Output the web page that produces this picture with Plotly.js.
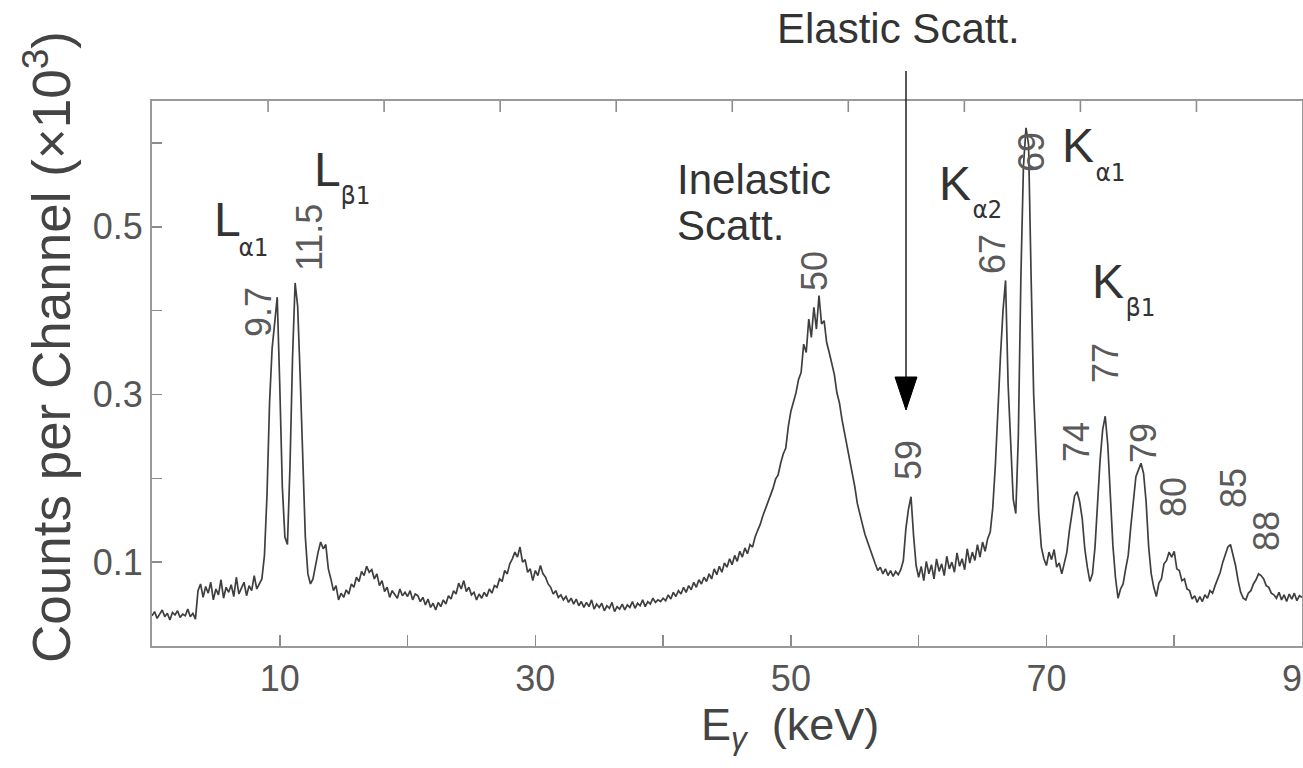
<!DOCTYPE html>
<html>
<head>
<meta charset="utf-8">
<script src="https://cdn.plot.ly/plotly-3.0.1.min.js"></script>
<style>
  html, body { margin: 0; padding: 0; background: #ffffff; }
  #chart { width: 1303px; height: 768px; }
</style>
</head>
<body>
<div id="chart"></div>
<script>
// ---------------- DATA ----------------
// Channel energies: first channel and spacing (keV)
const energyStart = 0.0;
const energyStep = 0.2;

// Counts per channel (raw counts)
const counts_0_20 = [36,41,33,38,43,35,39,31,40,37, 42,34,38,36,44,35,39,32,66,74,
  58,71,63,76,55,68,61,79,57,70, 64,73,59,82,62,69,76,60,72,66,
  84,68,75,80,108,180,290,355,385,416, 310,190,130,121,215,345,433,405,320,225,
  130,86,74,80,97,112,124,116,121,92, 80,66,72,55,63,58,67,62,74,70,
  82,77,89,84,95,88,91,80,86,72, 78,65,70,58,66,61,57,68,60,64];

const counts_20_40 = [59,66,55,62,60,53,58,49,56,46, 51,43,52,47,55,50,60,56,66,62,
  75,68,78,65,70,61,64,55,62,57, 64,59,68,63,72,70,80,77,90,86,
  98,104,112,106,118,100,103,88,92,78, 90,84,96,86,82,74,70,62,66,58,
  61,55,59,52,57,50,56,48,53,46, 52,47,55,44,50,46,51,42,48,45,
  52,41,47,44,50,43,49,46,53,45, 51,48,55,47,53,50,57,52,55,53];

const counts_40_60 = [57,54,61,56,64,59,66,62,70,64, 72,67,76,70,79,74,82,77,86,80,
  92,85,95,88,99,94,104,97,108,101, 113,106,117,110,121,118,130,138,145,155,
  163,172,180,188,199,204,218,229,236,262, 280,291,302,318,326,360,350,390,368,404,
  378,418,384,388,362,350,336,324,302,290, 270,256,238,222,208,190,170,156,145,133,
  124,114,106,98,90,94,86,92,84,90, 83,89,85,91,102,140,163,178,132,96];

const counts_60_90 = [82,95,78,101,86,97,80,104,89,98, 84,107,92,100,88,111,95,104,91,116,
  99,112,102,121,106,124,113,128,136,165, 215,285,345,400,436,312,232,175,158,250,
  440,572,618,598,440,300,228,158,118,104, 96,112,103,115,94,99,86,98,112,138,
  162,179,184,172,152,116,94,77,86,118, 170,222,258,274,240,180,120,82,57,68,
  74,92,108,142,176,202,210,218,206,172, 118,86,70,59,75,80,98,102,112,106,
  113,92,90,78,80,68,66,56,60,52, 59,53,61,57,66,63,72,80,88,100,
  108,118,121,110,96,78,64,57,55,63, 66,74,79,86,84,80,72,70,63,61,
  57,64,55,61,53,62,56,63,54,60, 58];

// Axis ticks (labels only on every other tick)
const xTickVals = [10,20,30,40,50,60,70,80,90];
const xTickText = ['10',' ','30',' ','50',' ','70',' ','90'];
const yTickVals = [0.1,0.2,0.3,0.4,0.5,0.6];
const yTickText = ['0.1',' ','0.3',' ','0.5',' '];

// Peak energy labels (keV)
const peakLabels = ['9.7','11.5','50','59','67','69','74','77','79','80','85','88'];

// ---------------- BUILD ----------------
const counts = [].concat(counts_0_20, counts_20_40, counts_40_60, counts_60_90);
const energy = counts.map((_, i) => +(energyStart + i * energyStep).toFixed(2));
const kcounts = counts.map(c => c / 1000);

const W = 1303, H = 768;
const ML = 152, MR = 1, MT = 101, MB = 122;
const PW = W - ML - MR, PH = H - MT - MB;
const px = v => (v - ML) / PW;
const py = v => (H - MB - v) / PH;

const SANS = 'Liberation Sans, Arial, sans-serif';
const MONO = 'DejaVu Sans Mono, monospace';

function ann(text, cx, cy, o) {
  o = o || {};
  return {
    text: text, xref: 'paper', yref: 'paper', x: px(cx), y: py(cy),
    xanchor: o.xanchor || 'center', yanchor: 'middle', showarrow: false,
    textangle: o.angle || 0,
    font: {family: o.family || SANS, size: o.size || 36, color: o.color || '#333'}
  };
}

// layout positions of the rotated peak labels (pixels)
const peakPos = [[258,312],[310,238],[814,271],[908,460],[993,254],[1032,152],
                 [1076,442],[1105,363],[1144,443],[1173,497],[1233,488],[1266,531]];

const annotations = peakLabels.map((t, i) =>
  ann(t, peakPos[i][0], peakPos[i][1], {angle: -90, size: 36, color: '#5a5a5a'}));

// Line labels
annotations.push(ann('L', 227, 219, {size: 48}));
annotations.push(ann('α1', 253, 248, {size: 24, family: MONO}));
annotations.push(ann('L', 327, 169, {size: 48}));
annotations.push(ann('β1', 355, 196, {size: 24, family: MONO}));
annotations.push(ann('K', 955, 183, {size: 48}));
annotations.push(ann('α2', 987, 210, {size: 24, family: MONO}));
annotations.push(ann('K', 1078, 145, {size: 48}));
annotations.push(ann('α1', 1110, 173, {size: 24, family: MONO}));
annotations.push(ann('K', 1108, 281, {size: 48}));
annotations.push(ann('β1', 1140, 308, {size: 24, family: MONO}));
annotations.push(ann('Inelastic', 675, 179, {size: 42, xanchor: 'left'}));
annotations.push(ann('Scatt.', 675, 225, {size: 42, xanchor: 'left'}));
annotations.push(ann('Elastic Scatt.', 898, 28, {size: 42}));

// Axis titles
annotations.push(ann('E<sub><i>γ</i></sub>\u00a0 (keV)', 790, 727, {size: 45, color: '#444'}));
annotations.push(ann('Counts per Channel (×10<sup>3</sup>)', 47, 347, {size: 53, angle: -90, color: '#444'}));

const LINEC = '#999999', TICKC = '#8c8c8c';

// Top frame ticks (a separate, evenly spaced scale along the upper border)
const topTickSpacing = 116.05, topTickLen = 11;
const shapes = [];
for (let k = 1; ML + k * topTickSpacing < W - 2; k++) {
  const xx = px(ML + k * topTickSpacing);
  shapes.push({type: 'line', xref: 'paper', yref: 'paper', x0: xx, x1: xx,
    y0: 1, y1: 1 - topTickLen / PH, layer: 'above', line: {color: TICKC, width: 1.6}});
}
// Elastic-scattering arrow
shapes.push({type: 'line', xref: 'paper', yref: 'paper', x0: px(906), x1: px(906), y0: py(71), y1: py(380),
   line: {color: '#222', width: 1.5}});
shapes.push({type: 'path', xref: 'paper', yref: 'paper',
   path: `M${px(895)},${py(377)} L${px(917)},${py(377)} L${px(906)},${py(410)} Z`,
   fillcolor: '#000', line: {color: '#000', width: 1}});

const trace = {
  x: energy, y: kcounts, type: 'scatter', mode: 'lines',
  line: {color: '#3f3f3f', width: 1.7}, hoverinfo: 'skip'
};

const axisCommon = {
  showgrid: false, zeroline: false, showline: true, linecolor: LINEC, linewidth: 2,
  ticks: 'inside', tickcolor: TICKC, tickwidth: 1.6,
  tickfont: {family: SANS, size: 36, color: '#555'}
};

const layout = {
  width: W, height: H, margin: {l: ML, r: MR, t: MT, b: MB, pad: 0},
  paper_bgcolor: '#fff', plot_bgcolor: '#fff',
  showlegend: false,
  xaxis: Object.assign({}, axisCommon, {range: [0, 90], tickmode: 'array',
    tickvals: xTickVals, ticktext: xTickText, ticklen: 11, ticklabeloverflow: 'allow',
    mirror: true}),
  yaxis: Object.assign({}, axisCommon, {range: [0, 0.65], tickmode: 'array',
    tickvals: yTickVals, ticktext: yTickText, ticklen: 10, mirror: true}),
  annotations: annotations, shapes: shapes
};

Plotly.newPlot('chart', [trace], layout, {staticPlot: true, displayModeBar: false});
</script>
</body>
</html>
